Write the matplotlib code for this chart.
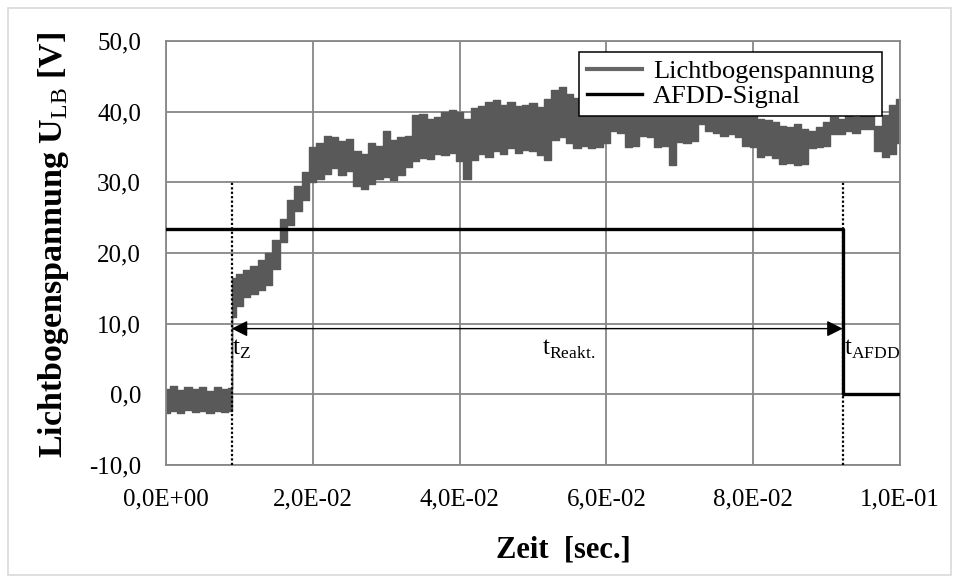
import numpy as np
import matplotlib
matplotlib.use("Agg")
import matplotlib.pyplot as plt
from matplotlib.lines import Line2D
from matplotlib.patches import Rectangle
from matplotlib.ticker import FuncFormatter, MultipleLocator

plt.rcParams["font.family"] = ["Liberation Serif", "DejaVu Serif"]
plt.rcParams["mathtext.fontset"] = "custom"
plt.rcParams["mathtext.rm"] = "Liberation Serif"
plt.rcParams["mathtext.bf"] = "Liberation Serif:bold"

# arc voltage band (time in ms, upper / lower edge in V)
t_ms = [0, 1, 2, 3, 4, 5, 6, 7, 8, 8.9, 9.1,
        10, 11, 12, 13, 14, 15, 16, 17, 18, 19,
        20, 21, 22, 23, 24, 25, 26, 27, 28, 29,
        30, 31, 32, 33, 34, 35, 36, 37, 38, 39,
        40, 41, 42, 43, 44, 45, 46, 47, 48, 49,
        50, 51, 52, 53, 54, 55, 56, 57, 58, 59,
        60, 61, 62, 63, 64, 65, 66, 67, 68, 69,
        70, 71, 72, 73, 74, 75, 76, 77, 78, 79,
        80, 81, 82, 83, 84, 85, 86, 87, 88, 89,
        90, 91, 92, 93, 94, 95, 96, 97, 98, 99, 100]
u_upper = [0.8, 1.2, 0.6, 1.0, 0.7, 1.1, 0.5, 1.0, 0.8, 0.9, 16.5,
           17.0, 17.6, 18.2, 19.0, 20.0, 21.8, 24.8, 27.5, 29.5, 31.5,
           35.0, 35.5, 36.6, 36.4, 35.8, 36.2, 34.5, 34.0, 35.6, 35.2,
           37.3, 36.0, 36.4, 36.6, 39.5, 39.7, 39.0, 39.3, 40.0, 40.3,
           40.0, 39.0, 40.5, 40.8, 41.3, 41.6, 41.0, 41.4, 40.8, 41.0,
           41.2, 40.6, 41.8, 43.0, 43.5, 42.5, 42.0, 41.5, 41.8, 41.5,
           41.2, 41.0, 41.5, 41.0, 41.2, 40.8, 41.0, 40.5, 40.8, 40.6,
           40.5, 40.8, 40.3, 41.0, 40.7, 40.5, 40.2, 40.5, 40.0, 40.0,
           39.8, 39.0, 38.8, 38.5, 38.0, 37.8, 38.2, 37.5, 37.2, 37.8,
           38.5, 39.2, 39.0, 39.5, 39.2, 39.4, 39.8, 38.0, 39.5, 41.0, 41.8]
u_lower = [-2.6, -2.4, -2.7, -2.2, -2.5, -2.3, -2.6, -2.4, -2.5, -2.4, 11.0,
           12.5, 13.8, 14.2, 14.8, 15.5, 17.8, 21.5, 24.0, 26.0, 27.5,
           30.0, 30.5, 31.2, 32.0, 31.0, 31.6, 29.5, 29.1, 29.8, 30.5,
           30.7, 30.4, 31.0, 32.2, 33.0, 33.5, 33.3, 34.0, 33.8, 34.2,
           33.0, 30.5, 33.2, 34.0, 33.6, 34.5, 34.0, 34.8, 34.2, 34.6,
           34.4, 33.9, 33.1, 36.0, 36.4, 35.5, 34.8, 35.2, 34.9, 35.0,
           35.5, 37.3, 37.0, 35.0, 35.2, 36.6, 36.4, 35.0, 35.2, 32.4,
           35.7, 35.5, 35.8, 38.3, 37.3, 37.0, 36.6, 36.8, 36.4, 35.2,
           35.0, 33.6, 33.8, 33.4, 32.6, 32.8, 32.5, 32.6, 34.8, 35.0,
           35.2, 36.9, 36.8, 37.3, 37.0, 37.5, 37.6, 34.5, 33.6, 34.0, 35.5]

# AFDD trip signal
afdd_t = [0.0, 0.0922, 0.0922, 0.1]
afdd_u = [23.4, 23.4, 0.0, 0.0]

t_z = 0.00895
t_afdd = 0.0922
arrow_u = 9.3

t = np.array(t_ms) * 1e-3

fig = plt.figure(figsize=(9.59, 5.82), dpi=100)
fig.patches.append(Rectangle((8 / 959, 7 / 582), 943 / 959, 567 / 582,
                             transform=fig.transFigure, fill=False,
                             edgecolor="#d9d9d9", lw=1.2))
ax = fig.add_axes([166 / 959, 117 / 582, 734 / 959, 424 / 582])

band = "#595959"
ax.fill_between(t, u_lower, u_upper, step="mid", color=band,
                edgecolor=band, lw=1.0, zorder=2)
ax.plot(afdd_t, afdd_u, color="black", lw=2.4, zorder=3)

# markers for ignition and trip
for tx in (t_z, t_afdd):
    ax.plot([tx, tx], [-10, 30], color="black", ls=(0, (1, 1)), lw=1.6, zorder=4)
ax.annotate("", xy=(t_afdd, arrow_u), xytext=(t_z, arrow_u),
            arrowprops=dict(arrowstyle="<|-|>", color="black", lw=1.0,
                            mutation_scale=24, shrinkA=0, shrinkB=0), zorder=4)
ax.text(t_z + 0.0001, 6.3, r"t$_{\mathrm{Z}}$", fontsize=18, va="center", ha="left")
ax.text(0.0548, 6.3, r"t$_{\mathrm{Reakt.}}$", fontsize=18, va="center", ha="center")
ax.text(t_afdd + 0.0002, 6.3, r"t$_{\mathrm{AFDD}}$", fontsize=18, va="center", ha="left")

ax.set_xlim(0, 0.1)
ax.set_ylim(-10, 50)
ax.xaxis.set_major_locator(MultipleLocator(0.02))
ax.yaxis.set_major_locator(MultipleLocator(10))
ax.xaxis.set_major_formatter(FuncFormatter(lambda v, p: f"{v:.1E}".replace(".", ",")))
ax.yaxis.set_major_formatter(FuncFormatter(lambda v, p: f"{v:.1f}".replace(".", ",")))
ax.tick_params(length=0, labelsize=18)
ax.tick_params(axis="x", pad=17)
ax.tick_params(axis="y", pad=18)
ax.grid(True, color="#878787", lw=1.3)
ax.set_axisbelow(True)
for s in ax.spines.values():
    s.set_color("#878787")
    s.set_linewidth(1.3)

ax.set_xlabel("Zeit  [sec.]", fontsize=22, fontweight="bold")
ax.xaxis.set_label_coords(0.541, -0.166)
ax.set_ylabel(r"Lichtbogenspannung U$_{\mathrm{LB}}$ [V]", fontsize=24.5,
              fontweight="bold")
ax.yaxis.set_label_coords(-0.129, 0.52)

handles = [Line2D([], [], color="#666666", lw=3),
           Line2D([], [], color="black", lw=2.4)]
leg = ax.legend(handles, ["Lichtbogenspannung", "AFDD-Signal"],
                loc="upper right", bbox_to_anchor=(0.9755, 0.974), fontsize=19,
                frameon=True, fancybox=False, framealpha=1, edgecolor="black",
                borderpad=0.3, labelspacing=0.05, handlelength=2.1,
                handletextpad=0.4, borderaxespad=0)
leg.get_frame().set_linewidth(1.1)

fig.savefig("out.png", dpi=100)
